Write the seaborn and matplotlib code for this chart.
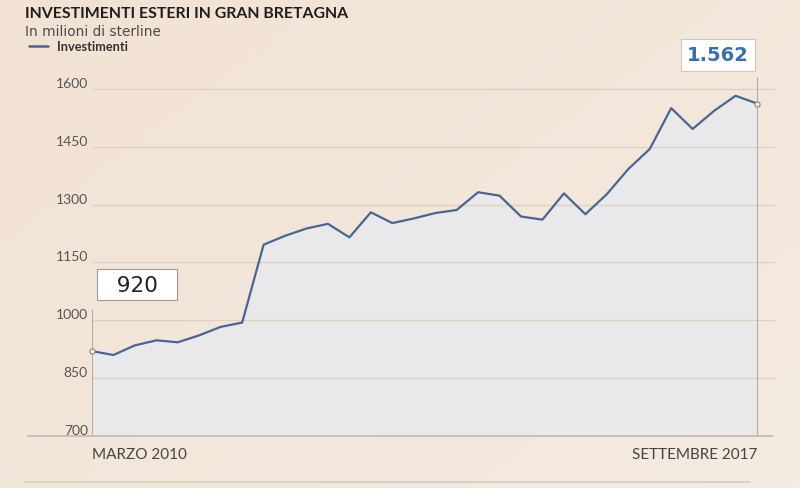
import numpy as np
import matplotlib
matplotlib.use("Agg")
import matplotlib.pyplot as plt
import seaborn as sns
from matplotlib.lines import Line2D
from matplotlib.colors import to_rgb

# ---------------- data ----------------
title = "INVESTIMENTI ESTERI IN GRAN BRETAGNA"
subtitle = "In milioni di sterline"
series_name = "Investimenti"
values = [920, 910, 935, 948, 943, 961, 983, 994, 1196, 1219, 1238, 1250,
          1215, 1280, 1252, 1264, 1278, 1286, 1332, 1323, 1269, 1261, 1329,
          1275, 1327, 1392, 1444, 1550, 1496, 1543, 1582, 1562]
x_labels = ["MARZO 2010", "SETTEMBRE 2017"]
y_ticks = [700, 850, 1000, 1150, 1300, 1450, 1600]

idx = np.arange(len(values))
start_label = f"{values[0]:,}".replace(",", ".")
end_label = f"{values[-1]:,}".replace(",", ".")

# ---------------- style ----------------
sns.set_theme(style="white")
plt.rcParams['font.family'] = ['Lato', 'DejaVu Sans']

LINE_C = "#4a6593"
FILL_C = "#e9e9eb"
GRID_C = "#dfd0c2"
W, H = 800, 489

fig = plt.figure(figsize=(8, 4.89), dpi=100)

# background gradient
bg = fig.add_axes([0, 0, 1, 1], zorder=-10)
c1 = np.array(to_rgb("#f2e2d3"))
c2 = np.array(to_rgb("#f4ebe1"))
yy, xx = np.mgrid[0:1:100j, 0:1:160j]
t = np.clip(0.55 * xx + 0.45 * yy, 0, 1)[..., None]
img = c1 * (1 - t) + c2 * t
bg.imshow(img, aspect="auto", extent=[0, 1, 0, 1], origin="upper")
bg.axis("off")

# main axes
left_px, right_px, top_px, bot_px = 92, 775, 32, 437
ax = fig.add_axes([left_px / W, 1 - bot_px / H,
                   (right_px - left_px) / W, (bot_px - top_px) / H])
ax.set_facecolor("none")

ax.fill_between(idx, values, y_ticks[0], color=FILL_C, lw=0, zorder=1)
sns.lineplot(x=idx, y=values, ax=ax, color=LINE_C, lw=1.6, zorder=4,
             legend=False)

ax.set_xlim(0, len(values) - 1 + 18 / 21.45)
ax.set_ylim(700, 1750)

# gridlines
ax.set_yticks(y_ticks)
ax.set_yticklabels([str(v) for v in y_ticks])
ax.yaxis.grid(True, color=GRID_C, lw=1.0, zorder=2)
ax.xaxis.grid(False)
ax.set_axisbelow(False)
for lbl in ax.get_yticklabels():
    lbl.set_va("bottom")
ax.tick_params(axis="y", length=0, pad=3, labelsize=10, labelcolor="#555555")

ax.set_xticks([idx[0], idx[-1]])
ax.set_xticklabels(x_labels)
ax.tick_params(axis="x", length=0, pad=8, labelsize=11, labelcolor="#444444")
xl = ax.get_xticklabels()
xl[0].set_ha("left")
xl[1].set_ha("right")

for s in ax.spines.values():
    s.set_visible(False)
ax.set_xlabel("")
ax.set_ylabel("")

# vertical reference lines at endpoints
ax.vlines([idx[0]], 700, values[0] + 109, color="#b5aca3", lw=0.8, zorder=3)
ax.vlines([idx[-1]], 700, values[-1] + 68, color="#b5aca3", lw=0.8, zorder=3)

# endpoint markers
ax.scatter([idx[0], idx[-1]], [values[0], values[-1]], s=14,
           facecolor="#f1ebe4", edgecolor="#8a8580", lw=0.8, zorder=6,
           clip_on=False)

# value boxes
ax.annotate("  " + start_label + "  ", xy=(idx[0], values[0]),
            xytext=(32.4, 47.9), textcoords="offset points",
            ha="center", va="center", fontsize=15.5, color="#222222",
            family="DejaVu Sans",
            bbox=dict(boxstyle="square,pad=0.25", fc="white", ec="#a09a94",
                      lw=0.8), zorder=7, annotation_clip=False)
ax.annotate(end_label, xy=(idx[-1], values[-1]),
            xytext=(-28.1, 35.0), textcoords="offset points",
            ha="center", va="center", fontsize=14, color="#3a6fa9",
            fontweight="bold", family="DejaVu Sans",
            bbox=dict(boxstyle="square,pad=0.32", fc="white", ec="#cfc6bd",
                      lw=0.8), zorder=7, annotation_clip=False)

# bottom axis line and footer line
fig.add_artist(Line2D([28 / W, 773 / W], [1 - 437 / H, 1 - 437 / H],
                      color="#c8bfb7", lw=1.4))
fig.add_artist(Line2D([25 / W, 750 / W], [1 - 483 / H, 1 - 483 / H],
                      color="#dcd0c4", lw=1.4))

# titles
fig.text(25 / W, 1 - 18.3 / H, title, fontsize=11.4, fontweight="bold",
         color="#1e1e1e", va="baseline", ha="left")
fig.text(25 / W, 1 - 35.5 / H, subtitle, fontsize=9.8, color="#4a4a4a",
         va="baseline", ha="left", family="DejaVu Sans")

# legend
fig.add_artist(Line2D([29 / W, 48 / W], [1 - 47 / H, 1 - 47 / H],
                      color=LINE_C, lw=1.8))
fig.text(57 / W, 1 - 47 / H, series_name, fontsize=9.2, fontweight="bold",
         color="#333333", va="center", ha="left")

fig.savefig("out.png", dpi=100)
